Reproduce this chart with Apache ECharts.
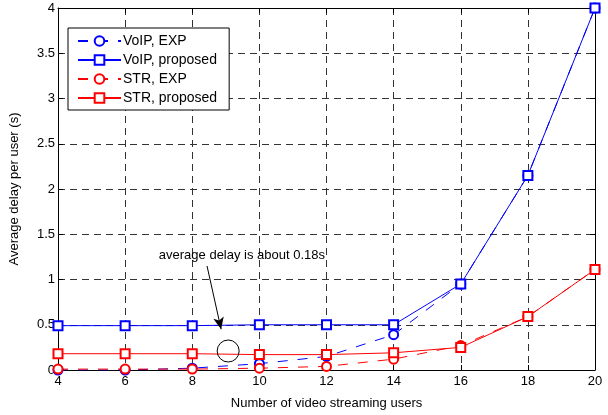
<!DOCTYPE html>
<html><head><meta charset="utf-8">
<script src="https://cdn.jsdelivr.net/npm/echarts@6/dist/echarts.min.js"></script>
<style>html,body{margin:0;padding:0;background:#fff}#c{width:608px;height:415px}</style>
</head><body><div id="c"></div>
<script>
const users = [4, 6, 8, 10, 12, 14, 16, 18, 20];
const voipExp = [0.0, 0.0, 0.02, 0.07, 0.15, 0.39, 0.95, 2.15, 4.0];
const voipProposed = [0.49, 0.49, 0.49, 0.5, 0.5, 0.5, 0.95, 2.15, 4.0];
const strExp = [0.01, 0.01, 0.01, 0.02, 0.04, 0.12, 0.27, 0.59, 1.11];
const strProposed = [0.18, 0.18, 0.18, 0.17, 0.17, 0.19, 0.25, 0.59, 1.11];
const yTicks = [0, 0.5, 1, 1.5, 2, 2.5, 3, 3.5, 4];
const annText = 'average delay is about 0.18s';
const annArrow = [[8.44, 1.15], [8.86, 0.45]];
const annCircle = [9.07, 0.21];
const annTextPos = [9.48, 1.27];

const FONT = 'Liberation Sans';
const FS = 13;
const pair = (xs, ys) => xs.map((x, i) => [x, ys[i]]);
const gridLine = {show: true, lineStyle: {color: '#333', type: [7, 5], width: 1}};
const baseX = {
  type: 'value', min: 4, max: 20, interval: 2,
  axisLine: {show: true, onZero: false, lineStyle: {color: '#000', width: 1}},
  axisTick: {show: true, inside: true, length: 5, lineStyle: {color: '#000'}},
};
const baseY = {
  type: 'value', min: 0, max: 4, interval: 0.5,
  axisLine: {show: true, onZero: false, lineStyle: {color: '#000', width: 1}},
  axisTick: {show: true, inside: true, length: 5, lineStyle: {color: '#000'}},
};
function mk(name, data, color, symbol, dashed, extra) {
  return Object.assign({
    name, type: 'line', data: pair(users, data), xAxisIndex: 0, yAxisIndex: 0,
    symbol, symbolSize: 9, showSymbol: true,
    lineStyle: {color, width: 1, type: dashed ? [10, 10] : 'solid'},
    itemStyle: {color, borderColor: color, borderWidth: 1},
    emphasis: {disabled: true}, animation: false, z: 3
  }, extra || {});
}
const chart = echarts.init(document.getElementById('c'), null, {renderer: 'canvas'});
chart.setOption({
  animation: false,
  textStyle: {fontFamily: FONT},
  grid: {left: 55, right: 13, top: 8, bottom: 42},
  legend: {
    left: 68, top: 28, orient: 'vertical',
    backgroundColor: '#fff', borderColor: '#000', borderWidth: 1,
    padding: [6, 12, 5, 9], itemGap: 5, itemWidth: 43, itemHeight: 12,
    textStyle: {fontFamily: FONT, fontSize: 14, color: '#000', padding: [0, 0, 0, -3]},
    data: ['VoIP, EXP', 'VoIP, proposed', 'STR, EXP', 'STR, proposed']
  },
  xAxis: [
    Object.assign({}, baseX, {
      position: 'bottom', name: 'Number of video streaming users', nameLocation: 'middle', nameGap: 27,
      nameTextStyle: {fontFamily: FONT, fontSize: FS, color: '#000'},
      axisLabel: {color: '#000', fontFamily: FONT, fontSize: FS, margin: 5},
      splitLine: gridLine
    }),
    Object.assign({}, baseX, {position: 'top', axisLabel: {show: false}, splitLine: {show: false}})
  ],
  yAxis: [
    Object.assign({}, baseY, {
      position: 'left', name: 'Average delay per user (s)', nameLocation: 'middle', nameGap: 37,
      nameTextStyle: {fontFamily: FONT, fontSize: FS, color: '#000'},
      axisLabel: {color: '#000', fontFamily: FONT, fontSize: FS, margin: 3,
        formatter: v => yTicks.includes(v) ? String(v) : ''},
      splitLine: gridLine
    }),
    Object.assign({}, baseY, {position: 'right', axisLabel: {show: false}, splitLine: {show: false}})
  ],
  series: [
    mk('VoIP, EXP', voipExp, '#0000ff', 'emptyCircle', true, {
      markLine: {
        silent: true, symbol: ['none', 'arrow'], symbolSize: [8, 12],
        lineStyle: {color: '#000', type: 'solid', width: 1}, label: {show: false},
        data: [[{coord: annArrow[0]}, {coord: annArrow[1]}]]
      },
      markPoint: {
        silent: true,
        data: [
          {coord: annCircle, symbol: 'circle', symbolSize: 22,
           itemStyle: {color: 'rgba(0,0,0,0)', borderColor: '#000', borderWidth: 1}, label: {show: false}},
          {coord: annTextPos, symbol: 'circle', symbolSize: 0,
           label: {show: true, position: 'inside', formatter: annText, color: '#000', fontFamily: FONT, fontSize: FS}}
        ]
      }
    }),
    mk('VoIP, proposed', voipProposed, '#0000ff', 'emptyRect', false),
    mk('STR, EXP', strExp, '#ff0000', 'emptyCircle', true),
    mk('STR, proposed', strProposed, '#ff0000', 'emptyRect', false)
  ]
});
</script></body></html>
